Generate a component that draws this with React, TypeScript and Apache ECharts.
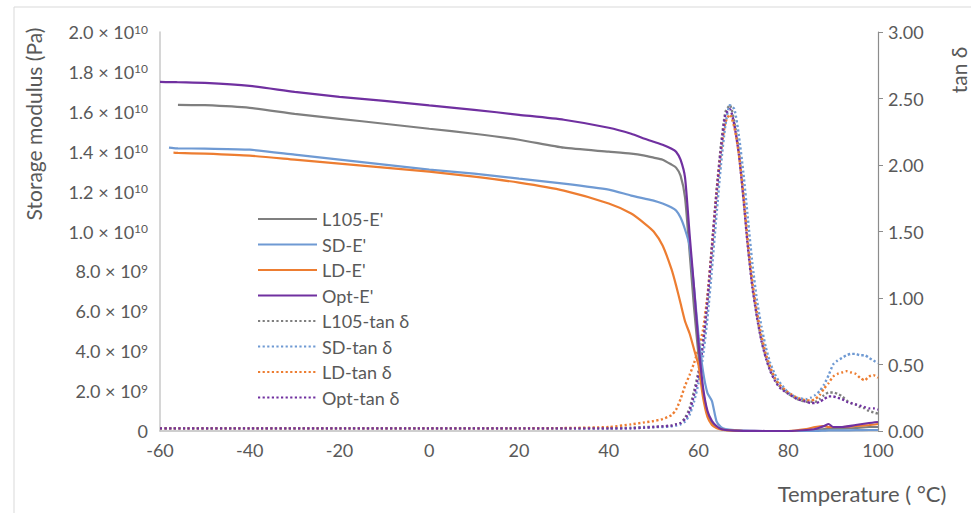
import React, { useEffect, useRef } from "react";
import * as echarts from "echarts";

// ---------- Data ----------
const tempE = [-60, -58, -57, -56, -50, -40, -30, -20, -10, 0, 10, 20, 30, 40, 45, 48, 50, 52, 54, 55, 56, 57, 58, 59, 60, 61, 62, 63, 64, 65, 66, 68, 70, 75, 80, 84, 86, 88, 89, 90, 92, 95, 98, 100];
// storage modulus, Pa
const l105E = [null, null, null, 1.635e10, 1.633e10, 1.62e10, 1.59e10, 1.565e10, 1.54e10, 1.515e10, 1.49e10, 1.46e10, 1.42e10, 1.40e10, 1.39e10, 1.38e10, 1.37e10, 1.36e10, 1.335e10, 1.32e10, 1.28e10, 1.17e10, 0.90e10, 0.62e10, 0.38e10, 0.20e10, 0.09e10, 0.04e10, 0.02e10, 0.01e10, 0.005e10, 0.002e10, 0, 0, 0, 0, 0.005e10, 0.01e10, 0.012e10, 0.012e10, 0.012e10, 0.015e10, 0.02e10, 0.02e10];
const sdE = [null, 1.42e10, 1.418e10, 1.417e10, 1.415e10, 1.41e10, 1.385e10, 1.36e10, 1.335e10, 1.31e10, 1.29e10, 1.265e10, 1.24e10, 1.21e10, 1.18e10, 1.165e10, 1.155e10, 1.14e10, 1.12e10, 1.105e10, 1.07e10, 1.01e10, 0.93e10, 0.72e10, 0.48e10, 0.30e10, 0.19e10, 0.15e10, 0.05e10, 0.02e10, 0.01e10, 0.004e10, 0.002e10, 0, 0, 0, 0, 0.002e10, 0.003e10, 0.003e10, 0.003e10, 0.004e10, 0.005e10, 0.005e10];
const ldE = [null, null, 1.395e10, 1.394e10, 1.39e10, 1.38e10, 1.36e10, 1.34e10, 1.32e10, 1.30e10, 1.275e10, 1.245e10, 1.205e10, 1.14e10, 1.09e10, 1.04e10, 1.00e10, 0.93e10, 0.81e10, 0.73e10, 0.64e10, 0.55e10, 0.49e10, 0.41e10, 0.33e10, 0.17e10, 0.07e10, 0.03e10, 0.015e10, 0.008e10, 0.004e10, 0.002e10, 0, 0, 0, 0.01e10, 0.02e10, 0.025e10, 0.02e10, 0.02e10, 0.02e10, 0.025e10, 0.03e10, 0.035e10];
const optE = [1.75e10, 1.749e10, 1.749e10, 1.748e10, 1.745e10, 1.73e10, 1.70e10, 1.675e10, 1.655e10, 1.632e10, 1.61e10, 1.585e10, 1.56e10, 1.52e10, 1.49e10, 1.465e10, 1.45e10, 1.435e10, 1.415e10, 1.40e10, 1.36e10, 1.27e10, 0.99e10, 0.72e10, 0.44e10, 0.22e10, 0.10e10, 0.05e10, 0.025e10, 0.01e10, 0.005e10, 0.002e10, 0.001e10, 0, 0, 0.005e10, 0.01e10, 0.025e10, 0.035e10, 0.02e10, 0.02e10, 0.03e10, 0.04e10, 0.045e10];

const tempT = [-60, -40, -20, 0, 20, 30, 40, 45, 48, 50, 52, 54, 55, 56, 57, 58, 59, 60, 61, 62, 63, 64, 65, 66, 67, 68, 69, 70, 71, 72, 73, 74, 75, 76, 77, 78, 80, 82, 84, 85, 86, 87, 88, 89, 90, 91, 92, 93, 94, 95, 96, 97, 98, 99, 100];
// tan delta
const l105T = [0.02, 0.02, 0.02, 0.02, 0.02, 0.02, 0.02, 0.025, 0.03, 0.03, 0.035, 0.04, 0.05, 0.06, 0.10, 0.17, 0.30, 0.45, 0.68, 1.00, 1.40, 1.80, 2.15, 2.40, 2.45, 2.32, 2.10, 1.76, 1.40, 1.10, 0.87, 0.69, 0.56, 0.46, 0.39, 0.34, 0.28, 0.24, 0.22, 0.22, 0.22, 0.24, 0.27, 0.29, 0.29, 0.28, 0.26, 0.23, 0.21, 0.20, 0.18, 0.17, 0.15, 0.14, 0.13];
const sdT = [0.02, 0.02, 0.02, 0.02, 0.02, 0.02, 0.02, 0.02, 0.025, 0.03, 0.03, 0.035, 0.04, 0.05, 0.07, 0.12, 0.22, 0.36, 0.56, 0.85, 1.22, 1.62, 2.00, 2.30, 2.45, 2.42, 2.22, 1.94, 1.60, 1.26, 0.99, 0.79, 0.63, 0.51, 0.43, 0.37, 0.29, 0.25, 0.24, 0.25, 0.27, 0.30, 0.35, 0.42, 0.50, 0.53, 0.55, 0.57, 0.58, 0.58, 0.57, 0.57, 0.55, 0.53, 0.51];
const ldT = [0.02, 0.02, 0.02, 0.02, 0.02, 0.022, 0.03, 0.05, 0.065, 0.075, 0.09, 0.12, 0.16, 0.24, 0.34, 0.42, 0.51, 0.62, 0.76, 1.02, 1.38, 1.78, 2.10, 2.32, 2.38, 2.28, 2.08, 1.78, 1.42, 1.12, 0.90, 0.72, 0.58, 0.48, 0.40, 0.35, 0.29, 0.25, 0.23, 0.23, 0.24, 0.27, 0.32, 0.36, 0.41, 0.43, 0.44, 0.45, 0.44, 0.43, 0.40, 0.38, 0.41, 0.42, 0.40];
const optT = [0.02, 0.02, 0.02, 0.02, 0.02, 0.02, 0.02, 0.02, 0.025, 0.03, 0.035, 0.04, 0.05, 0.06, 0.09, 0.15, 0.27, 0.42, 0.65, 0.98, 1.38, 1.78, 2.12, 2.38, 2.42, 2.30, 2.08, 1.75, 1.38, 1.08, 0.86, 0.68, 0.55, 0.45, 0.38, 0.33, 0.28, 0.24, 0.22, 0.21, 0.21, 0.22, 0.24, 0.26, 0.26, 0.25, 0.24, 0.22, 0.21, 0.20, 0.19, 0.18, 0.17, 0.17, 0.16];

const seriesNames = ["L105-E'", "SD-E'", "LD-E'", "Opt-E'", "L105-tan δ", "SD-tan δ", "LD-tan δ", "Opt-tan δ"];
const colors = ["#7f7f7f", "#6f9ad3", "#ed7d31", "#7030a0", "#7f7f7f", "#6f9ad3", "#ed7d31", "#7030a0"];

const xTicks = { min: -60, max: 100, interval: 20 };
const leftAxis = { min: 0, max: 2.0e10, interval: 2.0e9 };
const rightAxis = { min: 0, max: 3, interval: 0.5 };

const FONT = "Lato, 'Open Sans', sans-serif";
const TXT = "#595959";

function pairs(xs: number[], ys: (number | null)[]) {
  const out: number[][] = [];
  xs.forEach((x, i) => {
    const y = ys[i];
    if (y !== null && y !== undefined) out.push([x, y]);
  });
  return out;
}

function leftLabel(v: number) {
  if (v === 0) return "{m|0}";
  if (v >= 1e10 - 1) return `{m|${(v / 1e10).toFixed(1)} × 10}{s|10}`;
  return `{m|${(v / 1e9).toFixed(1)} × 10}{s|9}`;
}

export default function App() {
  const ref = useRef<HTMLDivElement>(null);
  useEffect(() => {
    if (!ref.current) return;
    const chart = echarts.init(ref.current, undefined, { renderer: "svg" });
    const eData = [l105E, sdE, ldE, optE];
    const tData = [l105T, sdT, ldT, optT];
    const series: any[] = [];
    eData.forEach((d, i) => {
      series.push({
        name: seriesNames[i],
        type: "line",
        yAxisIndex: 0,
        data: pairs(tempE, d),
        symbol: "none",
        smooth: 0.2,
        lineStyle: { color: colors[i], width: 2.2 },
        itemStyle: { color: colors[i] },
        z: 3,
      });
    });
    tData.forEach((d, i) => {
      series.push({
        name: seriesNames[i + 4],
        type: "line",
        yAxisIndex: 1,
        data: pairs(tempT, d),
        symbol: "none",
        smooth: 0.2,
        lineStyle: { color: colors[i + 4], width: 2.4, type: [2.2, 2.4] },
        itemStyle: { color: colors[i + 4] },
        z: 2,
      });
    });

    chart.setOption({
      animation: false,
      backgroundColor: "#ffffff",
      textStyle: { fontFamily: FONT },
      grid: { left: 160, right: 93, top: 32, bottom: 82, containLabel: false },
      legend: {
        orient: "vertical",
        left: 257,
        top: 210,
        padding: 0,
        itemWidth: 59,
        itemHeight: 18,
        itemGap: 7.5,
        data: seriesNames,
        itemStyle: { opacity: 0, borderWidth: 0 },
        textStyle: { color: TXT, fontSize: 18, lineHeight: 18, fontFamily: FONT },
      },
      xAxis: {
        type: "value",
        min: xTicks.min,
        max: xTicks.max,
        interval: xTicks.interval,
        axisLine: { show: true, onZero: false, lineStyle: { color: "#bfbfbf", width: 1.5 } },
        axisTick: { show: false },
        splitLine: { show: false },
        axisLabel: { color: TXT, fontSize: 18, margin: 10, fontFamily: FONT },
      },
      yAxis: [
        {
          type: "value",
          min: leftAxis.min,
          max: leftAxis.max,
          interval: leftAxis.interval,
          axisLine: { show: true, onZero: false, lineStyle: { color: "#c8c8c8", width: 1.5 } },
          axisTick: { show: false },
          splitLine: { show: false },
          axisLabel: {
            margin: 12,
            formatter: leftLabel,
            rich: {
              m: { color: TXT, fontSize: 18, fontFamily: FONT },
              s: { color: TXT, fontSize: 12, fontFamily: FONT, verticalAlign: "top", padding: [0, 0, 6, 0] },
            },
          },
        },
        {
          type: "value",
          position: "right",
          min: rightAxis.min,
          max: rightAxis.max,
          interval: rightAxis.interval,
          axisLine: { show: true, onZero: false, lineStyle: { color: "#8c8c8c", width: 1.2 } },
          axisTick: { show: true, length: 5, lineStyle: { color: "#8c8c8c" } },
          splitLine: { show: false },
          axisLabel: { color: TXT, fontSize: 18, margin: 10, fontFamily: FONT, formatter: (v: number) => v.toFixed(2) },
        },
      ],
      graphic: [
        {
          type: "polyline",
          shape: { points: [[14, 513], [14, 7], [971, 7]] },
          style: { stroke: "#d9d9d9", lineWidth: 1, fill: null },
          silent: true,
        },
        {
          type: "text",
          x: 33,
          y: 124,
          rotation: Math.PI / 2,
          style: { text: "Storage modulus (Pa)", fill: TXT, font: `21px ${FONT}`, align: "center", verticalAlign: "middle", textAlign: "center", textVerticalAlign: "middle" },
        },
        {
          type: "text",
          x: 958,
          y: 70,
          rotation: Math.PI / 2,
          style: { text: "tan δ", fill: TXT, font: `21px ${FONT}`, align: "center", verticalAlign: "middle", textAlign: "center", textVerticalAlign: "middle" },
        },
        {
          type: "text",
          x: 862,
          y: 493,
          style: { text: "Temperature ( °C)", fill: TXT, font: `22px ${FONT}`, align: "center", verticalAlign: "middle", textAlign: "center", textVerticalAlign: "middle" },
        },
      ],
      series,
    });
    return () => chart.dispose();
  }, []);
  return <div ref={ref} style={{ position: "fixed", left: 0, top: 0, width: 971, height: 513 }} />;
}
